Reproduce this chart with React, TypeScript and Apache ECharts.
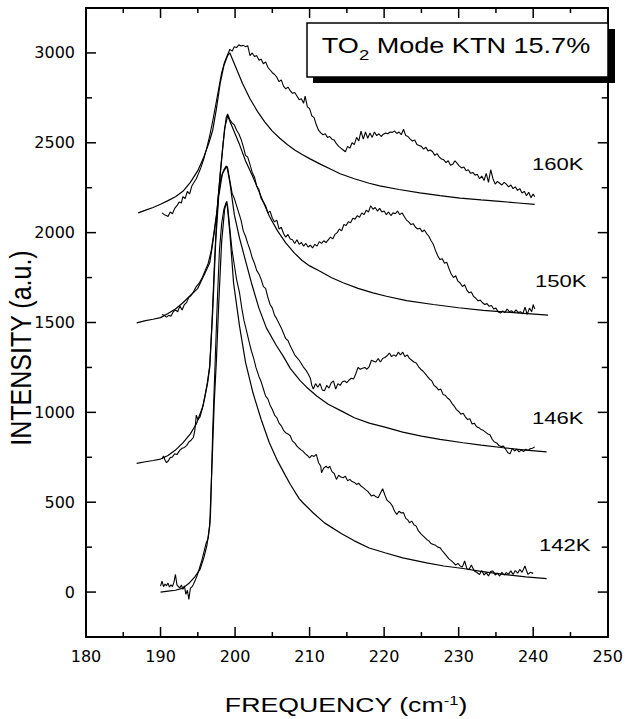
import React, { useEffect, useRef } from "react";
import * as echarts from "echarts";

// ---- axis ticks ----
const xMin = 180;
const xMax = 250;
const xInterval = 10;
const yMin = -250;
const yMax = 3250;
const xMajorTicks = [190, 200, 210, 220, 230, 240];
const xMinorTicks = [185, 195, 205, 215, 225, 235, 245];
const yMajorTicks = [0, 500, 1000, 1500, 2000, 2500, 3000];
const yMinorTicks = [250, 750, 1250, 1750, 2250, 2750];

const temperatures = ["160K", "150K", "146K", "142K"];

// ---- measured spectra (frequency cm-1, intensity a.u.) ----
const data160K: [number, number][] = [
  [190.2, 2110], [190.5, 2100], [190.8, 2095], [191.0, 2090], [191.3, 2115], [191.6, 2105], [191.9, 2135],
  [192.2, 2150], [192.5, 2170], [192.8, 2165], [193.0, 2200], [193.3, 2190], [193.6, 2230], [193.9, 2215],
  [194.2, 2260], [194.5, 2280], [194.8, 2300], [195.1, 2330], [195.4, 2360], [195.8, 2410], [196.2, 2470],
  [196.6, 2540], [197.0, 2620], [197.4, 2710], [197.8, 2800], [198.2, 2890], [198.6, 2950], [199.0, 2990],
  [199.3, 3020], [199.6, 3010], [199.9, 3035], [200.2, 3030], [200.5, 3045], [200.8, 3038], [201.1, 3042],
  [201.4, 3035], [201.7, 3040], [202.0, 2985], [202.3, 3000], [202.6, 2980], [202.9, 2985], [203.2, 2960],
  [203.5, 2965], [203.8, 2940], [204.1, 2950], [204.4, 2920], [204.7, 2905], [205.0, 2890], [205.3, 2880],
  [205.6, 2865], [205.9, 2840], [206.2, 2850], [206.5, 2815], [206.8, 2800], [207.1, 2810], [207.4, 2790],
  [207.7, 2775], [208.0, 2780], [208.3, 2760], [208.6, 2740], [208.9, 2745], [209.2, 2720], [209.4, 2760],
  [209.7, 2700], [210.0, 2690], [210.3, 2650], [210.6, 2640], [210.9, 2600], [211.2, 2570], [211.5, 2555],
  [211.8, 2545], [212.1, 2550], [212.4, 2530], [212.7, 2535], [213.0, 2520], [213.3, 2515], [213.6, 2495],
  [213.9, 2480], [214.2, 2470], [214.5, 2460], [214.8, 2450], [215.1, 2480], [215.4, 2470], [215.7, 2500],
  [216.0, 2490], [216.3, 2530], [216.6, 2510], [216.9, 2565], [217.2, 2520], [217.5, 2560], [217.8, 2525],
  [218.1, 2555], [218.4, 2530], [218.7, 2560], [219.0, 2540], [219.3, 2550], [219.6, 2535], [219.9, 2548],
  [220.2, 2555], [220.5, 2550], [220.8, 2560], [221.1, 2558], [221.4, 2565], [221.7, 2552], [222.0, 2560],
  [222.3, 2545], [222.6, 2575], [222.9, 2540], [223.2, 2535], [223.5, 2520], [223.8, 2510], [224.1, 2515],
  [224.4, 2490], [224.7, 2485], [225.0, 2480], [225.3, 2465], [225.6, 2475], [225.9, 2455], [226.2, 2460],
  [226.5, 2450], [226.8, 2430], [227.1, 2440], [227.4, 2420], [227.7, 2410], [228.0, 2405], [228.3, 2390],
  [228.6, 2400], [228.9, 2375], [229.2, 2380], [229.5, 2400], [229.8, 2385], [230.1, 2370], [230.4, 2360],
  [230.7, 2365], [231.0, 2345], [231.3, 2350], [231.6, 2330], [231.9, 2335], [232.2, 2320], [232.5, 2325],
  [232.8, 2300], [233.1, 2315], [233.4, 2290], [233.7, 2330], [234.0, 2280], [234.3, 2350], [234.6, 2300],
  [234.9, 2270], [235.2, 2285], [235.5, 2275], [235.8, 2265], [236.1, 2280], [236.4, 2270], [236.7, 2255],
  [237.0, 2265], [237.3, 2245], [237.6, 2255], [237.9, 2235], [238.2, 2245], [238.5, 2220], [238.8, 2230],
  [239.1, 2205], [239.4, 2225], [239.7, 2195], [240.0, 2215], [240.2, 2200],
];

const fit160K: [number, number][] = [
  [187, 2110], [188, 2125], [189, 2140], [190, 2158], [191, 2178], [192, 2200], [193, 2230], [194, 2280],
  [195, 2345], [195.8, 2420], [196.5, 2500], [197, 2570], [197.5, 2690], [198, 2830], [198.5, 2930],
  [199, 2985], [199.3, 3000], [200, 2930], [201, 2830], [202, 2745], [203, 2675], [204, 2615], [205, 2565],
  [206, 2525], [207, 2490], [208, 2460], [209, 2435], [210, 2412], [211.5, 2380], [213, 2350], [214.1, 2328],
  [216, 2300], [218, 2275], [219.4, 2260], [222, 2240], [224.8, 2221], [227.5, 2206], [230.2, 2192],
  [233, 2182], [235.5, 2174], [238, 2165], [240.2, 2157],
];

const data150K: [number, number][] = [
  [190.2, 1545], [190.5, 1540], [190.8, 1530], [191.1, 1540], [191.4, 1535], [191.7, 1560], [192.0, 1570],
  [192.3, 1560], [192.6, 1592], [192.9, 1570], [193.2, 1600], [193.5, 1612], [193.8, 1640], [194.1, 1650],
  [194.4, 1670], [194.8, 1700], [195.2, 1720], [195.6, 1750], [196.0, 1790], [196.4, 1830], [196.8, 1900],
  [197.2, 2010], [197.6, 2130], [198.0, 2330], [198.4, 2500], [198.8, 2640], [199.0, 2660], [199.3, 2630],
  [199.6, 2610], [199.9, 2600], [200.2, 2570], [200.5, 2550], [200.8, 2520], [201.1, 2480], [201.4, 2430],
  [201.7, 2420], [202.0, 2380], [202.3, 2335], [202.6, 2310], [202.9, 2260], [203.2, 2240], [203.5, 2190],
  [203.8, 2170], [204.1, 2150], [204.4, 2110], [204.7, 2120], [205.0, 2080], [205.3, 2060], [205.6, 2070],
  [205.9, 2020], [206.2, 2030], [206.5, 1995], [206.8, 1975], [207.1, 1990], [207.4, 1965], [207.7, 1960],
  [208.0, 1940], [208.3, 1960], [208.6, 1935], [208.9, 1945], [209.2, 1925], [209.5, 1940], [209.8, 1920],
  [210.1, 1930], [210.4, 1915], [210.7, 1935], [211.0, 1925], [211.3, 1950], [211.6, 1940], [211.9, 1955],
  [212.2, 1945], [212.5, 1960], [212.8, 1975], [213.1, 1965], [213.4, 1990], [213.7, 2000], [214.0, 2020],
  [214.3, 2010], [214.6, 2045], [214.9, 2040], [215.2, 2060], [215.5, 2055], [215.8, 2080], [216.1, 2075],
  [216.4, 2095], [216.7, 2085], [217.0, 2110], [217.3, 2100], [217.6, 2125], [217.9, 2115], [218.2, 2150],
  [218.5, 2130], [218.8, 2140], [219.1, 2120], [219.4, 2135], [219.7, 2115], [220.0, 2120], [220.3, 2100],
  [220.6, 2115], [220.9, 2095], [221.2, 2110], [221.5, 2105], [221.8, 2120], [222.1, 2100], [222.4, 2110],
  [222.7, 2090], [223.0, 2070], [223.3, 2060], [223.6, 2045], [223.9, 2050], [224.2, 2030], [224.5, 2020],
  [224.8, 2025], [225.1, 2005], [225.4, 2015], [225.7, 1995], [226.0, 1980], [226.3, 1955], [226.6, 1935],
  [226.9, 1900], [227.2, 1870], [227.5, 1850], [227.8, 1855], [228.1, 1830], [228.4, 1835], [228.7, 1800],
  [229.0, 1770], [229.3, 1750], [229.6, 1760], [229.9, 1730], [230.2, 1720], [230.5, 1700], [230.8, 1710],
  [231.1, 1680], [231.4, 1665], [231.7, 1670], [232.0, 1645], [232.3, 1635], [232.6, 1620], [232.9, 1625],
  [233.2, 1610], [233.5, 1600], [233.8, 1605], [234.1, 1590], [234.4, 1595], [234.7, 1575], [235.0, 1580],
  [235.3, 1560], [235.6, 1552], [235.9, 1565], [236.2, 1555], [236.5, 1575], [236.8, 1560], [237.1, 1565],
  [237.4, 1555], [237.7, 1570], [238.0, 1555], [238.3, 1560], [238.6, 1548], [238.9, 1585], [239.2, 1545],
  [239.5, 1580], [239.8, 1560], [240.0, 1600], [240.2, 1575],
];

const fit150K: [number, number][] = [
  [186.8, 1498], [188, 1510], [189, 1518], [190, 1527], [191, 1550], [192, 1575], [193, 1610], [194, 1650],
  [195, 1690], [195.8, 1760], [196.6, 1832], [197, 1940], [197.5, 2091], [198.2, 2407], [198.6, 2580],
  [199, 2650], [199.5, 2600], [200, 2550], [200.6, 2490], [201.4, 2400], [202.4, 2310], [203.5, 2200],
  [204.6, 2091], [205.7, 2010], [206.8, 1943], [208, 1885], [209, 1845], [210, 1815], [211.4, 1785],
  [212.9, 1750], [214.5, 1721], [216.5, 1690], [218.5, 1665], [220.3, 1646], [223, 1622], [226.6, 1600],
  [230, 1582], [233.3, 1567], [237.8, 1554], [242, 1541],
];

const data146K: [number, number][] = [
  [190.2, 740], [190.4, 757], [190.6, 735], [190.8, 720], [191.0, 728], [191.3, 748], [191.6, 752],
  [191.9, 770], [192.2, 765], [192.6, 790], [192.9, 800], [193.2, 805], [193.5, 815], [193.8, 835],
  [194.1, 845], [194.4, 860], [194.6, 900], [194.8, 985], [195.0, 960], [195.3, 975], [195.6, 1020],
  [196.0, 1100], [196.3, 1170], [196.6, 1260], [196.9, 1500], [197.2, 1800], [197.5, 2050], [197.8, 2220],
  [198.1, 2300], [198.5, 2350], [198.8, 2370], [199.0, 2360], [199.3, 2290], [199.6, 2220], [199.9, 2190],
  [200.2, 2150], [200.5, 2110], [200.8, 2070], [201.1, 2010], [201.4, 1980], [201.7, 1940], [202.0, 1905],
  [202.3, 1860], [202.6, 1830], [202.9, 1790], [203.2, 1770], [203.5, 1740], [203.8, 1700], [204.1, 1690],
  [204.4, 1640], [204.7, 1600], [205.0, 1580], [205.3, 1540], [205.6, 1520], [205.9, 1495], [206.2, 1470],
  [206.5, 1440], [206.8, 1410], [207.1, 1400], [207.4, 1370], [207.7, 1345], [208.0, 1320], [208.3, 1305],
  [208.6, 1290], [208.9, 1270], [209.2, 1250], [209.5, 1235], [209.8, 1215], [210.1, 1190], [210.3, 1150],
  [210.5, 1130], [210.8, 1160], [211.1, 1140], [211.4, 1160], [211.7, 1125], [212.0, 1120], [212.3, 1150],
  [212.6, 1135], [212.9, 1165], [213.2, 1175], [213.5, 1130], [213.8, 1160], [214.1, 1150], [214.4, 1170],
  [214.7, 1175], [215.0, 1165], [215.3, 1180], [215.6, 1190], [215.9, 1185], [216.2, 1215], [216.5, 1250],
  [216.8, 1240], [217.1, 1245], [217.4, 1250], [217.7, 1240], [218.0, 1255], [218.3, 1290], [218.6, 1285],
  [218.9, 1280], [219.2, 1300], [219.5, 1280], [219.8, 1300], [220.1, 1305], [220.4, 1315], [220.7, 1330],
  [221.0, 1310], [221.3, 1320], [221.6, 1312], [221.9, 1335], [222.2, 1320], [222.5, 1335], [222.8, 1310],
  [223.1, 1320], [223.4, 1300], [223.7, 1290], [224.0, 1280], [224.3, 1275], [224.6, 1255], [224.9, 1240],
  [225.2, 1230], [225.5, 1215], [225.8, 1200], [226.1, 1185], [226.4, 1175], [226.7, 1150], [227.0, 1140],
  [227.3, 1125], [227.6, 1130], [227.9, 1100], [228.2, 1095], [228.5, 1080], [228.8, 1070], [229.1, 1050],
  [229.4, 1035], [229.7, 1015], [230.0, 1005], [230.3, 990], [230.6, 995], [230.9, 975], [231.2, 960],
  [231.5, 965], [231.8, 935], [232.1, 940], [232.4, 920], [232.7, 915], [233.0, 905], [233.3, 900],
  [233.6, 890], [233.9, 880], [234.2, 875], [234.5, 850], [234.8, 835], [235.1, 830], [235.4, 815],
  [235.7, 810], [236.0, 812], [236.3, 795], [236.6, 775], [236.9, 770], [237.2, 800], [237.5, 785],
  [237.8, 795], [238.1, 780], [238.4, 790], [238.7, 782], [239.0, 795], [239.3, 788], [239.6, 798],
  [239.9, 800], [240.2, 808],
];

const fit146K: [number, number][] = [
  [186.8, 716], [188, 725], [189, 732], [190, 740], [191, 760], [192, 790], [193, 830], [194, 880],
  [194.8, 935], [195.7, 1035], [196.3, 1160], [196.6, 1250], [197, 1560], [197.4, 1950], [197.8, 2200],
  [198.3, 2330], [198.9, 2370], [199.3, 2280], [199.9, 2100], [200.6, 1970], [201.3, 1860], [202.2, 1720],
  [203.2, 1580], [204.2, 1470], [205.5, 1375], [206.5, 1310], [207.4, 1245], [208.7, 1178], [209.6, 1140],
  [211, 1090], [212.5, 1045], [214.3, 1007], [216, 970], [218, 940], [220.1, 918], [222.5, 890],
  [225, 868], [227.5, 850], [230.6, 831], [233, 818], [236, 803], [239, 790], [241.8, 780],
];

const data142K: [number, number][] = [
  [190.0, 33], [190.2, 61], [190.4, 30], [190.6, 45], [190.8, 35], [191.0, 50], [191.2, 28], [191.4, 40],
  [191.6, 30], [191.8, 55], [192.0, 98], [192.2, 40], [192.4, 30], [192.6, 24], [192.8, 40], [193.0, 15],
  [193.2, 35], [193.4, -13], [193.6, 10], [193.8, -41], [194.0, 20], [194.3, 33], [194.6, 60], [194.9, 90],
  [195.2, 130], [195.5, 170], [195.8, 220], [196.1, 270], [196.4, 300], [196.7, 420], [197.0, 900],
  [197.3, 1250], [197.6, 1600], [197.9, 1900], [198.2, 2050], [198.5, 2130], [198.8, 2168], [199.0, 2150],
  [199.3, 2020], [199.6, 1900], [199.9, 1820], [200.2, 1740], [200.6, 1665], [200.9, 1580], [201.2, 1510],
  [201.5, 1460], [201.9, 1390], [202.2, 1340], [202.5, 1300], [202.8, 1250], [203.2, 1200], [203.5, 1170],
  [203.8, 1130], [204.1, 1090], [204.4, 1075], [204.7, 1040], [205.0, 1016], [205.3, 985], [205.6, 970],
  [205.9, 940], [206.2, 925], [206.5, 900], [206.8, 886], [207.1, 880], [207.4, 870], [207.7, 840],
  [208.0, 830], [208.3, 812], [208.6, 800], [208.9, 790], [209.1, 784], [209.4, 770], [209.7, 760],
  [210.0, 747], [210.3, 760], [210.6, 755], [210.9, 766], [211.2, 720], [211.5, 700], [211.6, 664],
  [211.9, 690], [212.2, 700], [212.5, 690], [212.7, 701], [213.0, 670], [213.3, 660], [213.6, 627],
  [213.9, 650], [214.2, 640], [214.5, 636], [214.8, 645], [215.1, 620], [215.4, 627], [215.7, 615],
  [216.0, 610], [216.3, 599], [216.6, 605], [216.9, 590], [217.2, 581], [217.5, 570], [217.8, 560],
  [218.1, 545], [218.3, 534], [218.6, 540], [218.9, 530], [219.2, 525], [219.5, 550], [219.8, 575],
  [220.1, 540], [220.4, 510], [220.8, 497], [221.1, 480], [221.4, 450], [221.7, 432], [222.0, 450],
  [222.3, 440], [222.6, 442], [222.9, 410], [223.2, 400], [223.4, 386], [223.7, 395], [224.0, 375],
  [224.3, 367], [224.6, 340], [225.0, 321], [225.3, 310], [225.7, 293], [226.0, 285], [226.3, 270],
  [226.6, 265], [226.9, 260], [227.2, 250], [227.5, 247], [227.8, 230], [228.1, 215], [228.4, 200],
  [228.7, 185], [229.0, 175], [229.3, 164], [229.6, 150], [229.9, 160], [230.2, 145], [230.5, 140],
  [230.8, 173], [231.1, 130], [231.4, 126], [231.7, 150], [232.1, 117], [232.4, 110], [232.8, 98],
  [233.1, 120], [233.4, 95], [233.7, 108], [234.0, 90], [234.3, 115], [234.6, 117], [234.9, 95],
  [235.2, 105], [235.5, 89], [235.8, 110], [236.1, 95], [236.4, 108], [236.7, 100], [237.0, 118],
  [237.3, 98], [237.6, 120], [237.9, 105], [238.2, 126], [238.5, 110], [238.9, 145], [239.1, 120],
  [239.3, 98], [239.6, 110], [240.0, 104],
];

const fit142K: [number, number][] = [
  [190, 0], [191, 5], [192, 10], [193, 22], [193.9, 52], [194.6, 85], [195.3, 126], [195.8, 190],
  [196.2, 256], [196.6, 367], [196.9, 700], [197.2, 1050], [197.5, 1294], [197.8, 1600], [198.2, 1950],
  [198.6, 2130], [198.9, 2175], [199.3, 2000], [199.8, 1720], [200.6, 1480], [201.4, 1280], [202.4, 1109],
  [203.5, 960], [204.6, 831], [205.7, 730], [206.8, 645], [207.4, 600], [208.6, 520], [209.1, 497],
  [210.5, 440], [212, 385], [214.3, 325], [216, 285], [218, 245], [220.1, 219], [222.5, 190],
  [225.7, 162], [228, 145], [230.6, 131], [233, 115], [236, 98], [239, 85], [241.8, 75],
];

const allCurves: [number, number][][] = [
  data160K, fit160K, data150K, fit150K, data146K, fit146K, data142K, fit142K,
];

const BLACK = "#000";
const GRID = { left: 86, right: 17, top: 8, bottom: 82 };
const W = 626;
const H = 719;

export default function App() {
  const ref = useRef<HTMLDivElement>(null);

  useEffect(() => {
    if (!ref.current) return;
    const chart = echarts.init(ref.current, undefined, { renderer: "svg" });

    const baseOption: any = {
      animation: false,
      grid: GRID,
      xAxis: [
        {
          type: "value", min: xMin, max: xMax, interval: xInterval, position: "bottom",
          splitLine: { show: false },
          axisLine: { show: true, onZero: false, lineStyle: { color: BLACK, width: 2 } },
          axisTick: { show: false },
          axisLabel: { show: true, color: BLACK, fontFamily: "DejaVu Sans", fontSize: 16, margin: 11 },
        },
        {
          type: "value", min: xMin, max: xMax, interval: xInterval, position: "top",
          splitLine: { show: false },
          axisLine: { show: true, onZero: false, lineStyle: { color: BLACK, width: 2 } },
          axisTick: { show: false },
          axisLabel: { show: false },
        },
      ],
      yAxis: [
        {
          type: "value", min: yMin, max: yMax, position: "left",
          splitLine: { show: false },
          axisLine: { show: true, onZero: false, lineStyle: { color: BLACK, width: 2 } },
          axisTick: { show: false },
          axisLabel: {
            show: true, color: BLACK, fontFamily: "DejaVu Sans", fontSize: 16, margin: 11,
            customValues: yMajorTicks, formatter: (v: number) => String(v),
          },
        },
        {
          type: "value", min: yMin, max: yMax, position: "right",
          splitLine: { show: false },
          axisLine: { show: true, onZero: false, lineStyle: { color: BLACK, width: 2 } },
          axisTick: { show: false },
          axisLabel: { show: false },
        },
      ],
      series: allCurves.map((d, i) => ({
        type: "line",
        xAxisIndex: 0,
        yAxisIndex: 0,
        data: d,
        symbol: "none",
        smooth: false,
        lineStyle: { color: BLACK, width: i % 2 === 0 ? 1.1 : 1.2 },
      })),
    };
    chart.setOption(baseOption);

    // pixel positions of the tick marks, obtained from the chart's own axes
    const plotW = W - GRID.left - GRID.right;
    const plotH = H - GRID.top - GRID.bottom;
    const toPx = (p: [number, number]): number[] => {
      let r: any = null;
      try {
        r = chart.convertToPixel({ gridIndex: 0 } as any, p);
      } catch (e) {
        r = null;
      }
      if (!r || !isFinite(r[0]) || !isFinite(r[1])) {
        r = [
          GRID.left + ((p[0] - xMin) / (xMax - xMin)) * plotW,
          GRID.top + ((yMax - p[1]) / (yMax - yMin)) * plotH,
        ];
      }
      return r;
    };
    const tickStyle = { stroke: BLACK, lineWidth: 1.5 };
    const tickEls: any[] = [];
    const addX = (v: number, len: number) => {
      const b = toPx([v, yMin]);
      const t = toPx([v, yMax]);
      tickEls.push({ type: "line", z: 50, silent: true, shape: { x1: b[0], y1: b[1], x2: b[0], y2: b[1] - len }, style: tickStyle });
      tickEls.push({ type: "line", z: 50, silent: true, shape: { x1: t[0], y1: t[1], x2: t[0], y2: t[1] + len }, style: tickStyle });
    };
    const addY = (v: number, len: number) => {
      const l = toPx([xMin, v]);
      const r = toPx([xMax, v]);
      tickEls.push({ type: "line", z: 50, silent: true, shape: { x1: l[0], y1: l[1], x2: l[0] + len, y2: l[1] }, style: tickStyle });
      tickEls.push({ type: "line", z: 50, silent: true, shape: { x1: r[0], y1: r[1], x2: r[0] - len, y2: r[1] }, style: tickStyle });
    };
    xMajorTicks.forEach((v) => addX(v, 10));
    xMinorTicks.forEach((v) => addX(v, 5));
    yMajorTicks.forEach((v) => addY(v, 10));
    yMinorTicks.forEach((v) => addY(v, 6));

    const textEls: any[] = [
      {
        type: "rect",
        z: 100,
        shape: { x: 313, y: 29, width: 302, height: 54 },
        style: { fill: BLACK },
      },
      {
        type: "rect",
        z: 101,
        shape: { x: 307, y: 23, width: 301, height: 54 },
        style: { fill: "#fff", stroke: BLACK, lineWidth: 1.5 },
      },
      {
        type: "text",
        z: 102,
        x: 456,
        y: 45,
        scaleX: 1.23,
        style: {
          text: "{m|TO}{s|2}{m| Mode KTN 15.7%}",
          align: "center",
          verticalAlign: "middle",
          fill: BLACK,
          rich: {
            m: { fontFamily: "Liberation Sans", fontSize: 22, lineHeight: 36, verticalAlign: "middle", fill: BLACK },
            s: { fontFamily: "Liberation Sans", fontSize: 15, lineHeight: 16, verticalAlign: "bottom", fill: BLACK },
          },
        },
      },
      {
        type: "text",
        z: 102,
        x: 346,
        y: 705,
        scaleX: 1.27,
        style: {
          text: "{m|FREQUENCY (cm}{p|-1}{m|)}",
          align: "center",
          verticalAlign: "middle",
          fill: BLACK,
          rich: {
            m: { fontFamily: "Liberation Sans", fontSize: 21, lineHeight: 22, verticalAlign: "middle", fill: BLACK },
            p: { fontFamily: "Liberation Sans", fontSize: 13, lineHeight: 14, verticalAlign: "top", fill: BLACK },
          },
        },
      },
      {
        type: "text",
        z: 102,
        x: 21,
        y: 348,
        rotation: Math.PI / 2,
        scaleY: 1.15,
        style: {
          text: "INTENSITY (a.u.)",
          align: "center",
          verticalAlign: "middle",
          fill: BLACK,
          fontFamily: "Liberation Sans",
          fontSize: 25,
        },
      },
      ...temperatures.map((t, i) => ({
        type: "text",
        z: 102,
        x: [532, 535, 532, 539][i],
        y: [164, 281, 418, 545][i],
        scaleX: 1.3,
        style: {
          text: t,
          align: "left",
          verticalAlign: "middle",
          fill: BLACK,
          fontFamily: "Liberation Sans",
          fontSize: 17,
        },
      })),
    ];

    chart.setOption({ graphic: [...tickEls, ...textEls] });
    return () => chart.dispose();
  }, []);

  return (
    <div
      ref={ref}
      style={{ position: "fixed", left: 0, top: 0, width: W, height: H, background: "#fff" }}
    />
  );
}
